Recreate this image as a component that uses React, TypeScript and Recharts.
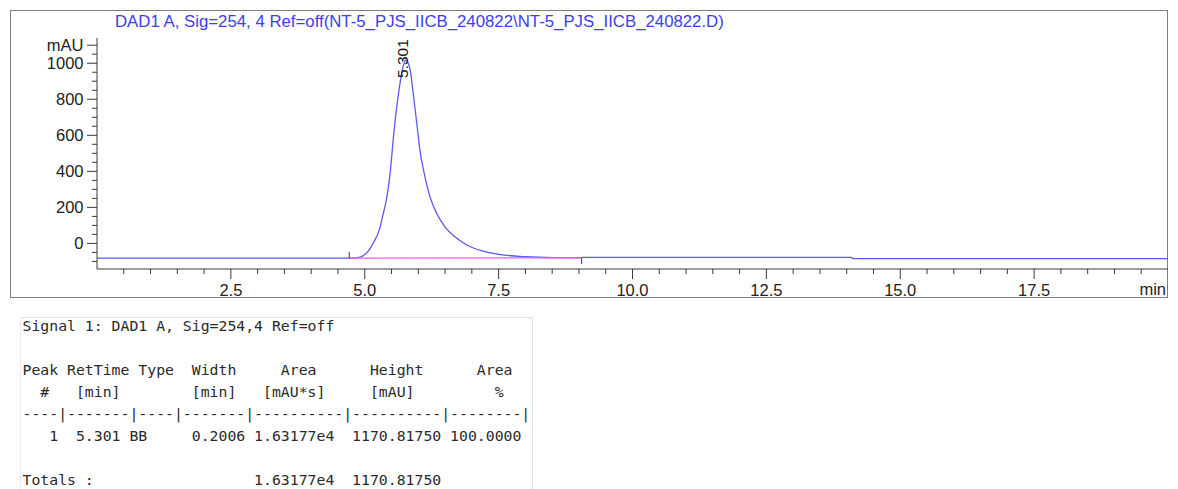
import { ComposedChart, Line, XAxis, YAxis, ReferenceLine, ReferenceDot } from "recharts";

// DAD1 A trace, retention time [min] vs response [mAU]
const traceTime = [
  0, 4.71, 4.87, 4.99, 5.08, 5.17, 5.27, 5.34, 5.42, 5.48, 5.54, 5.59, 5.64, 5.68, 5.72,
  5.76, 5.81, 5.85, 5.88, 5.92, 5.98, 6.03, 6.11, 6.22, 6.35, 6.5, 6.69, 6.91, 7.19, 7.53,
  8.0, 8.55, 9.05, 9.07, 14.09, 14.11, 20,
];
const traceMau = [
  -82, -82, -79, -64, -37, 8, 74, 158, 269, 407, 602, 740, 851, 929, 985,
  1018, 1001, 962, 896, 796, 646, 518, 390, 257, 163, 91, 36, -9, -42, -62,
  -74, -79, -80, -77, -77, -84, -84,
];

// integration baseline and peak start / end marks
const baselineTime = [4.71, 9.05];
const baselineMau = [-82, -80];
const peakStart = 4.71;
const peakEnd = 9.05;

const apexTime = 5.76;
const apexMau = 1018;
const apexLabel = "5.301";

const xTicks = [
  0.5, 1, 1.5, 2, 2.5, 3, 3.5, 4, 4.5, 5, 5.5, 6, 6.5, 7, 7.5, 8, 8.5, 9, 9.5, 10,
  10.5, 11, 11.5, 12, 12.5, 13, 13.5, 14, 14.5, 15, 15.5, 16, 16.5, 17, 17.5, 18, 18.5, 19, 19.5,
];
const yTicks = [
  -100, -50, 0, 50, 100, 150, 200, 250, 300, 350, 400, 450, 500, 550, 600, 650, 700,
  750, 800, 850, 900, 950, 1000, 1050, 1100,
];

const title = "DAD1 A, Sig=254, 4 Ref=off(NT-5_PJS_IICB_240822\\NT-5_PJS_IICB_240822.D)";

const reportLines = [
  "Signal 1: DAD1 A, Sig=254,4 Ref=off",
  "",
  "Peak RetTime Type  Width     Area      Height      Area",
  "  #   [min]        [min]   [mAU*s]     [mAU]         %",
  "----|-------|----|-------|----------|----------|--------|",
  "   1  5.301 BB     0.2006 1.63177e4  1170.81750 100.0000",
  "",
  "Totals :                  1.63177e4  1170.81750",
];

const traceRows = traceTime.map((t, i) => ({ t, mau: traceMau[i] }));
const baselineRows = baselineTime.map((t, i) => ({ t, mau: baselineMau[i] }));

const AXIS = "#3a3a3a";
const FONT = "'Liberation Sans', Arial, sans-serif";

function TimeTick({ x, y, payload }: any) {
  const v = payload.value as number;
  const major = Math.abs(v / 2.5 - Math.round(v / 2.5)) < 1e-6;
  return (
    <g>
      <line x1={x} x2={x} y1={y} y2={y + (major ? 10 : 5)} stroke={AXIS} />
      {major && (
        <text x={x} y={y + 27} textAnchor="middle" fontSize={16.5} fill="#222" fontFamily={FONT}>
          {v.toFixed(1)}
        </text>
      )}
    </g>
  );
}

function MauTick({ x, y, payload }: any) {
  const v = payload.value as number;
  const labelled = v === 1100 || (v >= 0 && v % 200 === 0);
  return (
    <g>
      <line x1={x - (labelled ? 10 : 5)} x2={x} y1={y} y2={y} stroke={AXIS} />
      {labelled && (
        <text x={x - 13.5} y={y + 6} textAnchor="end" fontSize={16.5} fill="#222" fontFamily={FONT}>
          {v === 1100 ? "mAU" : v}
        </text>
      )}
    </g>
  );
}

function ApexLabel({ cx, cy }: any) {
  const x = cx + 3;
  const y = cy + 18;
  return (
    <text
      x={x}
      y={y}
      transform={`rotate(-90 ${x} ${y})`}
      fontSize={15.5}
      fill="#111"
      fontFamily={FONT}
    >
      {apexLabel}
    </text>
  );
}

export default function App() {
  return (
    <div style={{ position: "relative", width: 1170, height: 481, background: "#fff", fontFamily: FONT }}>
      <div
        style={{
          position: "absolute",
          left: 2,
          top: 2,
          width: 1156,
          height: 286,
          border: "1px solid #7f7f7f",
        }}
      />
      <div
        style={{
          position: "absolute",
          left: 107,
          top: 4,
          fontSize: 16.8,
          lineHeight: "20px",
          color: "#3d3df2",
          whiteSpace: "nowrap",
        }}
      >
        {title}
      </div>
      <div style={{ position: "absolute", left: 2, top: 2 }}>
        <ComposedChart width={1158} height={288} margin={{ top: 28, right: 0, bottom: 0, left: 0 }}>
          <XAxis
            type="number"
            dataKey="t"
            domain={[0, 20]}
            ticks={xTicks}
            interval={0}
            allowDataOverflow
            height={29}
            tickSize={0}
            tickMargin={0}
            tickLine={false}
            axisLine={{ stroke: AXIS }}
            tick={<TimeTick />}
            label={({ viewBox }: any) => (
              <text
                x={viewBox.x + viewBox.width - 2}
                y={viewBox.y + 26}
                textAnchor="end"
                fontSize={16.5}
                fill="#222"
                fontFamily={FONT}
              >
                min
              </text>
            )}
          />
          <YAxis
            type="number"
            domain={[-142, 1140]}
            ticks={yTicks}
            interval={0}
            allowDataOverflow
            width={87}
            tickSize={0}
            tickMargin={0}
            tickLine={false}
            axisLine={{ stroke: AXIS }}
            tick={<MauTick />}
          />
          <Line
            data={traceRows}
            dataKey="mau"
            type="monotone"
            stroke="#5a5af0"
            strokeWidth={1.3}
            dot={false}
            activeDot={false}
            isAnimationActive={false}
          />
          <Line
            data={baselineRows}
            dataKey="mau"
            type="linear"
            stroke="#ee5ee8"
            strokeWidth={1.3}
            dot={false}
            activeDot={false}
            isAnimationActive={false}
          />
          <ReferenceLine
            segment={[{ x: peakStart, y: -82 }, { x: peakStart, y: -46 }]}
            stroke={AXIS}
          />
          <ReferenceLine
            segment={[{ x: peakEnd, y: -80 }, { x: peakEnd, y: -114 }]}
            stroke={AXIS}
          />
          <ReferenceDot x={apexTime} y={apexMau} r={0} shape={(p: any) => <ApexLabel {...p} />} />
        </ComposedChart>
      </div>
      <div
        style={{
          position: "absolute",
          left: 12,
          top: 309,
          width: 511,
          height: 180,
          borderTop: "1px solid #e2e2e2",
          borderLeft: "1px solid #ececec",
          borderRight: "1px solid #e2e2e2",
        }}
      />
      <div
        style={{
          position: "absolute",
          left: 14.5,
          top: 306.5,
          fontFamily: "'DejaVu Sans Mono', monospace",
          fontSize: 14.8,
          lineHeight: "22px",
          color: "#2a2a2a",
          whiteSpace: "pre",
        }}
      >
        {reportLines.map((l, i) => (
          <div key={i}>{l || " "}</div>
        ))}
      </div>
    </div>
  );
}
